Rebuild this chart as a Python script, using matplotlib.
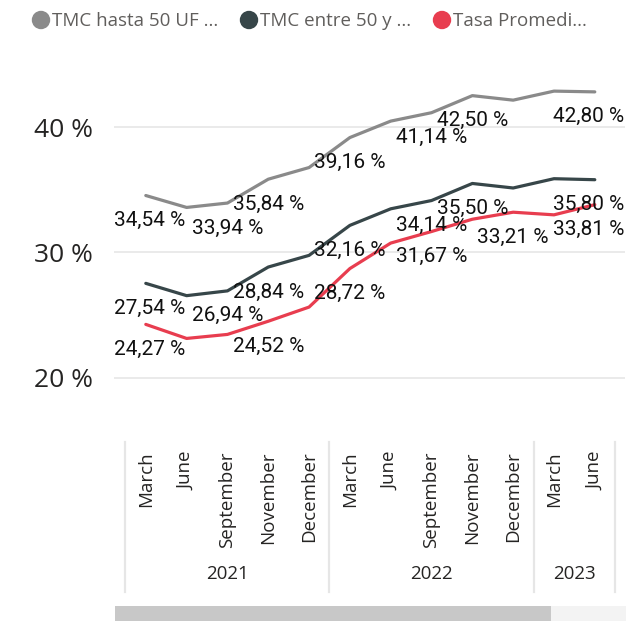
import matplotlib.pyplot as plt
import matplotlib.transforms as mtransforms
from matplotlib.patches import Rectangle, Circle
from matplotlib.lines import Line2D

#--Datos -------------------------------
meses = ["March", "June", "September", "November", "December",
         "March", "June", "September", "November", "December",
         "March", "June"]
anios = ["2021", "2022", "2023"]
anio_rango = [(0, 4), (5, 9), (10, 11)]

tmc_hasta_50 = [34.54, 33.59, 33.94, 35.84, 36.77, 39.16, 40.47, 41.14, 42.50, 42.14, 42.86, 42.80]
tmc_entre_50 = [27.54, 26.56, 26.94, 28.84, 29.77, 32.16, 33.48, 34.14, 35.50, 35.14, 35.88, 35.80]
tasa_prom = [24.27, 23.15, 23.47, 24.52, 25.65, 28.72, 30.75, 31.67, 32.65, 33.21, 33.00, 33.81]

series = ["TMC hasta 50 UF ...", "TMC entre 50 y ...", "Tasa Promedi..."]
colores = ["#8A8A8A", "#374649", "#E83D4F"]

# indices con etiqueta visible
etiq_gris = [0, 2, 3, 5, 7, 8, 11]
etiq_osc = [0, 2, 3, 5, 7, 8, 11]
etiq_roja = [0, 3, 5, 7, 9, 11]

yticks = [20, 30, 40]

#--Figura ------------------------------
W, H = 639, 621
fig = plt.figure(figsize=(W / 100, H / 100), dpi=100)

# capa de fondo en pixeles para decoracion (leyenda, scroll)
bg = fig.add_axes([0, 0, 1, 1])
bg.set_xlim(0, W)
bg.set_ylim(H, 0)
bg.axis("off")

ax = fig.add_axes([114 / W, 1 - 420 / H, 511 / W, 360 / H])
ax.set_xlim(-0.779, 11.74)
ax.set_ylim(16.65, 45.34)

x = list(range(len(meses)))
datos = [tmc_hasta_50, tmc_entre_50, tasa_prom]
etiquetas = [etiq_gris, etiq_osc, etiq_roja]

for vals, col in zip(datos, colores):
    ax.plot(x, vals, color=col, lw=2.3, solid_joinstyle="round", solid_capstyle="round", zorder=3)

for vals, idx in zip(datos, etiquetas):
    for i in idx:
        dx = 0
        if i == 0:
            dx = 4
        elif i == len(x) - 1:
            dx = -6
        txt = f"{vals[i]:.2f} %".replace(".", ",")
        ax.annotate(txt, (x[i], vals[i]), xytext=(dx, -25), textcoords="offset pixels",
                    ha="center", va="center", fontsize=15, family="Roboto",
                    fontweight="normal", color="#111111", zorder=5)

ax.set_yticks(yticks)
ax.set_yticklabels([f"{v} %" for v in yticks], family="Open Sans", fontsize=19, color="#252423")
ax.tick_params(axis="y", length=0, pad=15)
ax.set_xticks([])
ax.grid(axis="y", color="#E8E8E8", lw=1.3)
ax.set_axisbelow(True)
for s in ax.spines.values():
    s.set_visible(False)

# eje x jerarquico
tr = mtransforms.blended_transform_factory(ax.transData, fig.transFigure)
for i, m in enumerate(meses):
    ax.text(i, 1 - 451 / H, m, transform=tr, rotation=90, ha="center", va="top",
            family="Open Sans", fontsize=13.5, color="#252423")
for a, (i0, i1) in zip(anios, anio_rango):
    ax.text((i0 + i1) / 2, 1 - 574 / H, a, transform=tr, ha="center", va="center",
            family="Open Sans", fontsize=13.5, color="#252423")
for sep in [-0.5, 4.5, 9.5, 11.5]:
    ax.add_line(Line2D([sep, sep], [1 - 442 / H, 1 - 592 / H], transform=tr,
                       color="#E6E6E6", lw=1.6, clip_on=False))

# leyenda
ley_x = [41, 249, 442]
for lx, nombre, col in zip(ley_x, series, colores):
    bg.add_patch(Circle((lx, 20), 8.5, color=col))
    bg.text(lx + 11, 21, nombre, ha="left", va="center", family="Open Sans",
            fontsize=13.5, color="#605E5C")

# barra de desplazamiento
bg.add_patch(Rectangle((115, 606), 511, 15, color="#F3F3F3", lw=0))
bg.add_patch(Rectangle((115, 606), 436, 15, color="#C8C8C8", lw=0))

fig.savefig("out.png", dpi=100)
